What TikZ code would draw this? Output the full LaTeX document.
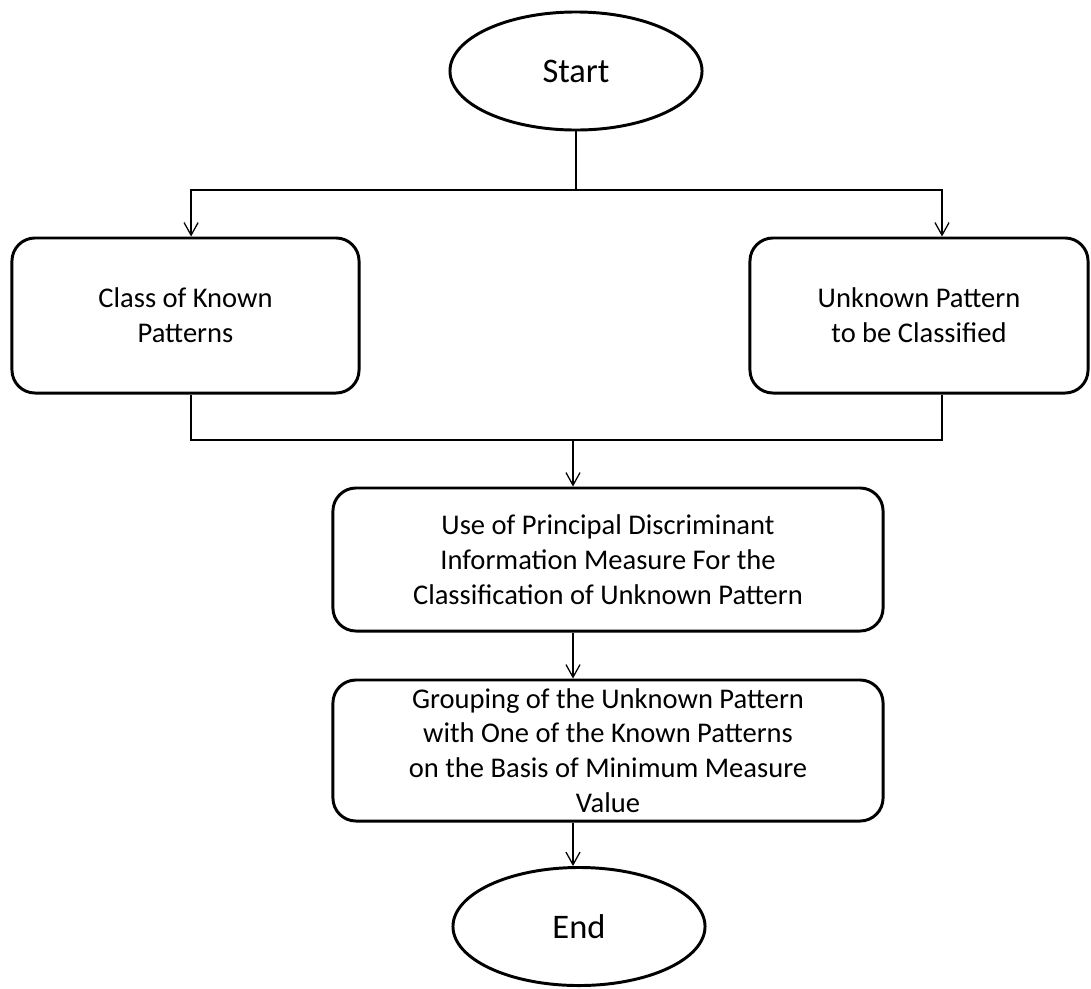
\documentclass[tikz,border=0pt]{standalone}
\usepackage{fontspec}
\setmainfont{Carlito}
\usetikzlibrary{arrows.meta,positioning,shapes.geometric}

\begin{document}
\begin{tikzpicture}[x=0.025cm, y=-0.025cm,
  terminal/.style={draw, ellipse, line width=2.1pt, minimum width=6.3cm, minimum height=2.95cm, inner sep=0pt, font=\fontsize{24.5}{29}\selectfont},
  procbox/.style={draw, rounded corners=0.575cm, line width=2.1pt, align=center, inner sep=0pt, font=\fontsize{20.3}{24.8}\selectfont},
  arr/.style={-{Straight Barb[length=9pt, width=10pt]}, line width=0.9pt},
  conn/.style={line width=0.9pt}
]
\useasboundingbox (0,0) rectangle (1091,988);

\node[terminal] (start) at (576,71) {Start};
\node[procbox, minimum width=8.675cm, minimum height=3.875cm] (known) at (185.5,315.5) {Class of Known\\Patterns};
\node[procbox, minimum width=8.45cm, minimum height=3.875cm] (unknown) at (919,315.5) {Unknown Pattern\\to be Classified};
\node[procbox, minimum width=13.75cm, minimum height=3.575cm] (measure) at (608,559.5) {Use of Principal Discriminant\\Information Measure For the\\Classification of Unknown Pattern};
\node[procbox, minimum width=13.75cm, minimum height=3.525cm] (grouping) at (608,750.5) {Grouping of the Unknown Pattern\\with One of the Known Patterns\\on the Basis of Minimum Measure\\Value};
\node[terminal] (finish) at (579,926.5) {End};

\coordinate (topjoin) at (576,190);
\coordinate (botjoin) at (573,440);

% split to the two inputs
\draw[conn] (start) -- (topjoin);
\draw[arr] (topjoin) -| ([xshift=0.14cm]known.north);
\draw[arr] (topjoin) -| ([xshift=0.575cm]unknown.north);

% merge and go on
\draw[conn] ([xshift=0.14cm]known.south) |- (botjoin);
\draw[conn] ([xshift=0.575cm]unknown.south) |- (botjoin);
\draw[arr] (botjoin) -- (botjoin |- measure.north);
\draw[arr] (measure.south -| botjoin) -- (grouping.north -| botjoin);
\draw[arr] (grouping.south -| botjoin) -- (botjoin |- finish.north);

\end{tikzpicture}
\end{document}
